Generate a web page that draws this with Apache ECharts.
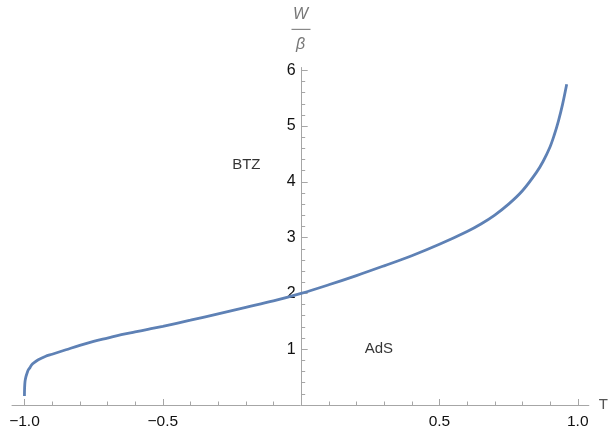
<!DOCTYPE html>
<html>
<head>
<meta charset="utf-8">
<script src="https://cdn.jsdelivr.net/npm/echarts@6/dist/echarts.min.js"></script>
<style>html,body{margin:0;padding:0;background:#fff;}#c{width:611px;height:430px;}</style>
</head>
<body>
<div id="c"></div>
<script>
// Curve values (T, W/β)
var tValues = [-1.0, -0.9995, -0.998, -0.995, -0.99, -0.986, -0.98, -0.974, -0.965, -0.95, -0.925, -0.9, -0.85, -0.8, -0.75, -0.7, -0.65, -0.6, -0.55, -0.5, -0.4, -0.3, -0.2, -0.1, 0.0, 0.1, 0.2, 0.3, 0.4, 0.5, 0.6, 0.65, 0.7, 0.75, 0.8, 0.85, 0.875, 0.9, 0.915, 0.93, 0.945, 0.96];
var wValues = [0.16, 0.30, 0.42, 0.50, 0.58, 0.63, 0.67, 0.72, 0.76, 0.81, 0.87, 0.91, 0.99, 1.07, 1.14, 1.20, 1.26, 1.31, 1.36, 1.41, 1.52, 1.635, 1.75, 1.865, 2.0, 2.155, 2.32, 2.495, 2.675, 2.88, 3.11, 3.245, 3.405, 3.60, 3.84, 4.165, 4.37, 4.63, 4.84, 5.09, 5.39, 5.75];
var xMajorTicks = [-1.0, -0.5, 0.5, 1.0];
var xMinorTicks = [-0.9, -0.8, -0.7, -0.6, -0.4, -0.3, -0.2, -0.1, 0.1, 0.2, 0.3, 0.4, 0.6, 0.7, 0.8, 0.9];
var yMajorTicks = [1, 2, 3, 4, 5, 6];
var yMinorTicks = [0.2, 0.4, 0.6, 0.8, 1.2, 1.4, 1.6, 1.8, 2.2, 2.4, 2.6, 2.8, 3.2, 3.4, 3.6, 3.8, 4.2, 4.4, 4.6, 4.8, 5.2, 5.4, 5.6, 5.8];
var regionLabels = [{name: 'BTZ', t: -0.198, w: 4.30}, {name: 'AdS', t: 0.281, w: 1.0}];

var curve = tValues.map(function (t, i) { return [t, wValues[i]]; });
var FONT = '"Liberation Sans", Arial, Helvetica, sans-serif';
var AXIS = '#a6a6a6';
var xMin = -1.045, xMax = 1.04, yMin = 0, yMax = 6.05;
var gridLeft = 12, gridRight = 21;
var gridW = 611 - gridLeft - gridRight;
var yAxisOffset = -gridW * (0 - xMin) / (xMax - xMin);

function fmt(v) { return (v < 0 ? '\u2212' : '') + Math.abs(v).toFixed(1); }

var chart = echarts.init(document.getElementById('c'), null, {renderer: 'canvas'});
chart.setOption({
  animation: false,
  backgroundColor: '#fff',
  grid: {left: gridLeft, right: gridRight, top: 67.5, bottom: 22.7, containLabel: false},
  xAxis: [{
    type: 'value', min: xMin, max: xMax,
    name: 'T', nameLocation: 'end', nameGap: 10,
    nameTextStyle: {color: '#555', fontSize: 15, fontFamily: FONT, verticalAlign: 'middle', padding: [6, 0, 0, 0]},
    axisLine: {show: true, onZero: false, lineStyle: {color: AXIS, width: 1}},
    axisTick: {show: true, inside: true, length: 6, customValues: xMajorTicks, lineStyle: {color: AXIS}},
    axisLabel: {show: true, customValues: xMajorTicks, formatter: fmt, color: '#111', fontSize: 15.5, fontFamily: FONT, margin: 9},
    splitLine: {show: false}
  }, {
    type: 'value', min: xMin, max: xMax, position: 'bottom',
    axisLine: {show: false, onZero: false},
    axisTick: {show: true, inside: true, length: 3.5, customValues: xMinorTicks, lineStyle: {color: AXIS}},
    axisLabel: {show: false},
    splitLine: {show: false}
  }],
  yAxis: [{
    type: 'value', min: yMin, max: yMax, position: 'left', offset: yAxisOffset,
    axisLine: {show: true, onZero: false, lineStyle: {color: AXIS, width: 1}},
    axisTick: {show: true, inside: true, length: 6, customValues: yMajorTicks, lineStyle: {color: AXIS}},
    axisLabel: {show: true, customValues: yMajorTicks, color: '#111', fontSize: 16, fontFamily: FONT, margin: 6},
    splitLine: {show: false}
  }, {
    type: 'value', min: yMin, max: yMax, position: 'left', offset: yAxisOffset,
    axisLine: {show: false, onZero: false},
    axisTick: {show: true, inside: true, length: 3.5, customValues: yMinorTicks, lineStyle: {color: AXIS}},
    axisLabel: {show: false},
    splitLine: {show: false}
  }],
  graphic: [
    {type: 'text', left: 293, top: 7, style: {text: 'W', fill: '#777', font: 'italic 16px ' + FONT}},
    {type: 'rect', shape: {x: 291.5, y: 28.8, width: 19, height: 1.2}, style: {fill: '#888'}},
    {type: 'text', left: 296, top: 37, style: {text: '\u03b2', fill: '#777', font: 'italic 16px ' + FONT}}
  ],
  series: [{
    type: 'line', xAxisIndex: 0, yAxisIndex: 0,
    data: curve, showSymbol: false, symbol: 'none',
    smooth: 0.35,
    lineStyle: {color: '#5E81B5', width: 2.8}
  }, {
    type: 'scatter', xAxisIndex: 0, yAxisIndex: 0,
    data: regionLabels.map(function (r) { return {name: r.name, value: [r.t, r.w]}; }),
    symbolSize: 0,
    label: {show: true, position: 'inside', formatter: '{b}', color: '#000', fontSize: 15, fontFamily: FONT}
  }]
});
</script>
</body>
</html>
